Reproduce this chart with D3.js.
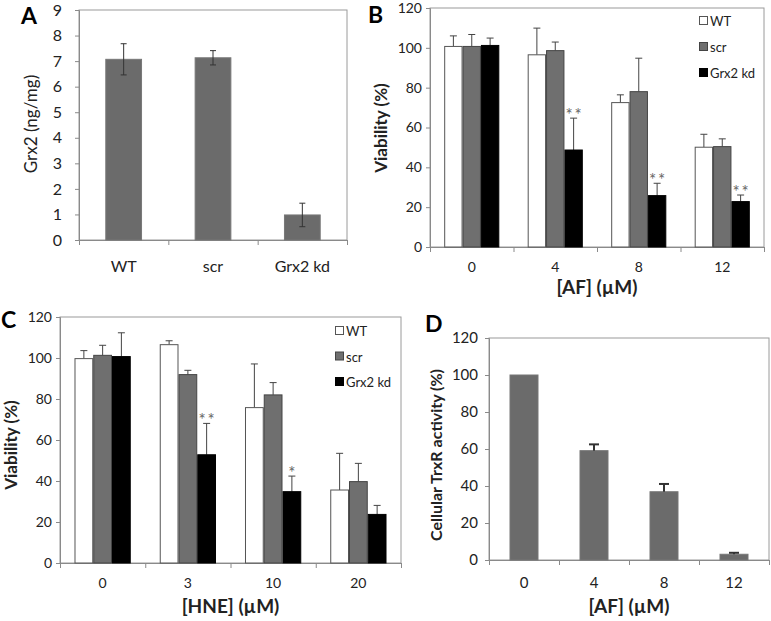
<!DOCTYPE html>
<html>
<head>
<meta charset="utf-8">
<script src="https://cdn.jsdelivr.net/npm/d3@7/dist/d3.min.js"></script>
<style>
  body { margin: 0; background: #fff; }
  text { font-family: Lato, "Open Sans", sans-serif; fill: #222; }
</style>
</head>
<body>
<div id="chart"></div>
<script>
// ---- data ----
// Panel A: Grx2 content
var aCats = ['WT', 'scr', 'Grx2 kd'],
    aValues = [7.07, 7.13, 0.98],
    aErrors = [0.61, 0.28, 0.46],
    aTicks = [0, 1, 2, 3, 4, 5, 6, 7, 8, 9];

// Panel B: viability vs auranofin
var bDoses = ['0', '4', '8', '12'],
    bWT = [100.7, 96.5, 72.5, 50.1],
    bWTErr = [5.3, 13.4, 3.9, 6.5],
    bScr = [100.7, 98.6, 78.0, 50.4],
    bScrErr = [6.0, 4.3, 16.8, 3.9],
    bKd = [101.2, 48.7, 25.8, 22.8],
    bKdErr = [3.7, 16.0, 6.2, 3.3],
    bStars = ['', '**', '**', '**'];

// Panel C: viability vs HNE
var cDoses = ['0', '3', '10', '20'],
    cWT = [99.7, 106.5, 75.8, 35.6],
    cWTErr = [3.9, 1.9, 21.3, 17.9],
    cScr = [101.3, 91.9, 82.0, 39.7],
    cScrErr = [4.9, 2.1, 6.0, 8.9],
    cKd = [100.7, 52.8, 34.8, 23.7],
    cKdErr = [11.6, 15.3, 7.6, 4.4],
    cStars = ['', '**', '*', ''];

// Panel D: TrxR activity vs auranofin
var dDoses = ['0', '4', '8', '12'],
    dValues = [100, 59.1, 36.9, 3.1],
    dErrors = [0, 3.4, 4.2, 0.8];

var pctTicks = [0, 20, 40, 60, 80, 100, 120],
    seriesNames = ['WT', 'scr', 'Grx2 kd'],
    seriesFill = ['#ffffff', '#6f6f6f', '#000000'],
    seriesStroke = ['#555555', '#444444', '#000000'];

var svg = d3.select('#chart')
    .append('svg')
    .attr('width', 771)
    .attr('height', 621);

// common frame + axes
function axes(g, o, x, y, n) {
    g.append('rect')
        .attr('width', o.w)
        .attr('height', o.h)
        .attr('fill', 'none')
        .attr('stroke', '#9a9a9a');

    var yAxis = g.append('g')
        .call(d3.axisLeft(y).tickValues(o.ticks).tickSize(4).tickPadding(o.yPad));
    yAxis.select('.domain').attr('stroke', '#8a8a8a');
    yAxis.selectAll('line').attr('stroke', '#8a8a8a');
    yAxis.selectAll('text').attr('font-size', o.tickFont).attr('fill', '#222');

    // category boundaries
    var xi = d3.scaleLinear().domain([0, n]).range([0, o.w]);
    var xb = g.append('g')
        .attr('transform', 'translate(0,' + o.h + ')')
        .call(d3.axisBottom(xi).tickValues(d3.range(n + 1)).tickSize(5).tickFormat(''));
    xb.select('.domain').attr('stroke', '#8a8a8a');
    xb.selectAll('line').attr('stroke', '#8a8a8a');

    var xl = g.append('g')
        .attr('transform', 'translate(0,' + o.h + ')')
        .call(d3.axisBottom(x).tickSize(0));
    xl.select('.domain').remove();
    xl.selectAll('text')
        .attr('y', o.xLabelY)
        .attr('dy', 0)
        .attr('font-size', o.tickFont)
        .attr('fill', '#222');

    if (o.xTitle) {
        g.append('text')
            .attr('x', o.w / 2)
            .attr('y', o.h + o.xTitleY)
            .attr('text-anchor', 'middle')
            .attr('font-size', 19)
            .attr('font-weight', 'bold')
            .text(o.xTitle);
    }

    g.append('text')
        .attr('transform', 'translate(' + o.yTitleX + ',' + o.yTitleY + ') rotate(-90)')
        .attr('text-anchor', 'middle')
        .attr('font-size', o.yTitleFont)
        .attr('font-weight', o.yTitleWeight)
        .text(o.yTitle);

    svg.append('text')
        .attr('x', o.letter[1])
        .attr('y', o.letter[2])
        .attr('font-family', 'Liberation Sans, Arial, sans-serif')
        .attr('font-weight', 'bold')
        .attr('font-size', 23)
        .style('fill', '#000')
        .text(o.letter[0]);
}

// single series bar chart (A, D)
function simpleBars(o, cats, values, errors, both) {
    var g = svg.append('g').attr('transform', 'translate(' + o.left + ',' + o.top + ')');
    var x = d3.scaleBand().domain(cats).range([0, o.w]).paddingInner(0.6).paddingOuter(0.3);
    var y = d3.scaleLinear().domain([0, o.max]).range([o.h, 0]);

    axes(g, o, x, y, cats.length);

    var bar = g.selectAll('.bar')
        .data(cats)
        .enter()
        .append('g');

    bar.append('rect')
        .attr('x', function(d) { return x(d); })
        .attr('y', function(d, i) { return y(values[i]); })
        .attr('width', x.bandwidth())
        .attr('height', function(d, i) { return o.h - y(values[i]); })
        .attr('fill', '#6b6b6b')
        .attr('stroke', '#777');

    var cap = o.cap / 2;
    bar.each(function(d, i) {
        if (!errors[i]) return;
        var cx = x(d) + x.bandwidth() / 2,
            top = y(values[i] + errors[i]),
            bot = both ? y(values[i] - errors[i]) : y(values[i]);
        var e = d3.select(this).append('g')
            .attr('stroke', '#333')
            .attr('stroke-width', o.errWidth);
        e.append('line').attr('x1', cx).attr('x2', cx).attr('y1', top).attr('y2', bot);
        e.append('line').attr('x1', cx - cap).attr('x2', cx + cap).attr('y1', top).attr('y2', top);
        if (both) {
            e.append('line').attr('x1', cx - cap).attr('x2', cx + cap).attr('y1', bot).attr('y2', bot);
        }
    });
}

// three series grouped bar chart (B, C)
function groupedBars(o, doses, series, errors, stars) {
    var g = svg.append('g').attr('transform', 'translate(' + o.left + ',' + o.top + ')');
    var x0 = d3.scaleBand().domain(doses).range([0, o.w]).paddingInner(0.34).paddingOuter(0.17);
    var x1 = d3.scaleBand().domain(seriesNames).range([0, x0.bandwidth()]);
    var y = d3.scaleLinear().domain([0, 120]).range([o.h, 0]);

    axes(g, o, x0, y, doses.length);

    var group = g.selectAll('.group')
        .data(doses)
        .enter()
        .append('g')
        .attr('transform', function(d) { return 'translate(' + x0(d) + ',0)'; });

    group.each(function(d, di) {
        var grp = d3.select(this);
        seriesNames.forEach(function(s, si) {
            var v = series[si][di],
                e = errors[si][di],
                bx = x1(s),
                cx = bx + x1.bandwidth() / 2;
            grp.append('line')
                .attr('x1', cx).attr('x2', cx)
                .attr('y1', y(v)).attr('y2', y(v + e))
                .attr('stroke', '#444');
            grp.append('line')
                .attr('x1', cx - 3.5).attr('x2', cx + 3.5)
                .attr('y1', y(v + e)).attr('y2', y(v + e))
                .attr('stroke', '#444');
            grp.append('rect')
                .attr('x', bx + 0.5)
                .attr('y', y(v))
                .attr('width', x1.bandwidth() - 1)
                .attr('height', o.h - y(v))
                .attr('fill', seriesFill[si])
                .attr('stroke', seriesStroke[si]);
        });
        if (stars[di]) {
            var last = seriesNames.length - 1;
            grp.append('text')
                .attr('x', x1(seriesNames[last]) + x1.bandwidth() / 2 + 1)
                .attr('y', y(series[last][di] + errors[last][di]) + 3)
                .attr('text-anchor', 'middle')
                .attr('font-size', 17)
                .attr('letter-spacing', 2)
                .style('fill', '#666')
                .text(stars[di]);
        }
    });

    // legend
    var lg = g.selectAll('.legend')
        .data(seriesNames)
        .enter()
        .append('g')
        .attr('transform', function(d, i) {
            return 'translate(' + o.legend[0] + ',' + (o.legend[1] + i * o.legend[2]) + ')';
        });
    lg.append('rect')
        .attr('x', 0.5).attr('y', -4.5)
        .attr('width', 8).attr('height', 8)
        .attr('fill', function(d, i) { return seriesFill[i]; })
        .attr('stroke', function(d, i) { return seriesStroke[i]; });
    lg.append('text')
        .attr('x', 11)
        .attr('y', 5)
        .attr('font-size', 13)
        .text(function(d) { return d; });
}

simpleBars({
    left: 79, top: 10, w: 268, h: 230, max: 9, ticks: aTicks,
    tickFont: 16, yPad: 13, xLabelY: 32,
    yTitle: 'Grx2 (ng/mg)', yTitleX: -42, yTitleY: 114, yTitleFont: 17, yTitleWeight: 'normal',
    letter: ['A', 21, 24], cap: 6, errWidth: 1
}, aCats, aValues, aErrors, true);

groupedBars({
    left: 430, top: 8, w: 334, h: 239, ticks: pctTicks,
    tickFont: 14, yPad: 4, xLabelY: 25,
    xTitle: '[AF] (\u00b5M)', xTitleY: 47,
    yTitle: 'Viability (%)', yTitleX: -43, yTitleY: 120, yTitleFont: 17, yTitleWeight: 'bold',
    letter: ['B', 368, 23], legend: [269, 13, 26]
}, bDoses, [bWT, bScr, bKd], [bWTErr, bScrErr, bKdErr], bStars);

groupedBars({
    left: 60, top: 317, w: 341, h: 246, ticks: pctTicks,
    tickFont: 14, yPad: 4, xLabelY: 25,
    xTitle: '[HNE] (\u00b5M)', xTitleY: 50,
    yTitle: 'Viability (%)', yTitleX: -43, yTitleY: 128, yTitleFont: 17, yTitleWeight: 'bold',
    letter: ['C', 1, 328], legend: [275, 14, 25.5]
}, cDoses, [cWT, cScr, cKd], [cWTErr, cScrErr, cKdErr], cStars);

simpleBars({
    left: 489, top: 338, w: 280, h: 222, max: 120, ticks: pctTicks,
    tickFont: 15, yPad: 7, xLabelY: 28,
    xTitle: '[AF] (\u00b5M)', xTitleY: 53,
    yTitle: 'Cellular TrxR activity (%)', yTitleX: -47, yTitleY: 117, yTitleFont: 16, yTitleWeight: 'bold',
    letter: ['D', 425, 332], cap: 10, errWidth: 2
}, dDoses, dValues, dErrors, false);
</script>
</body>
</html>
